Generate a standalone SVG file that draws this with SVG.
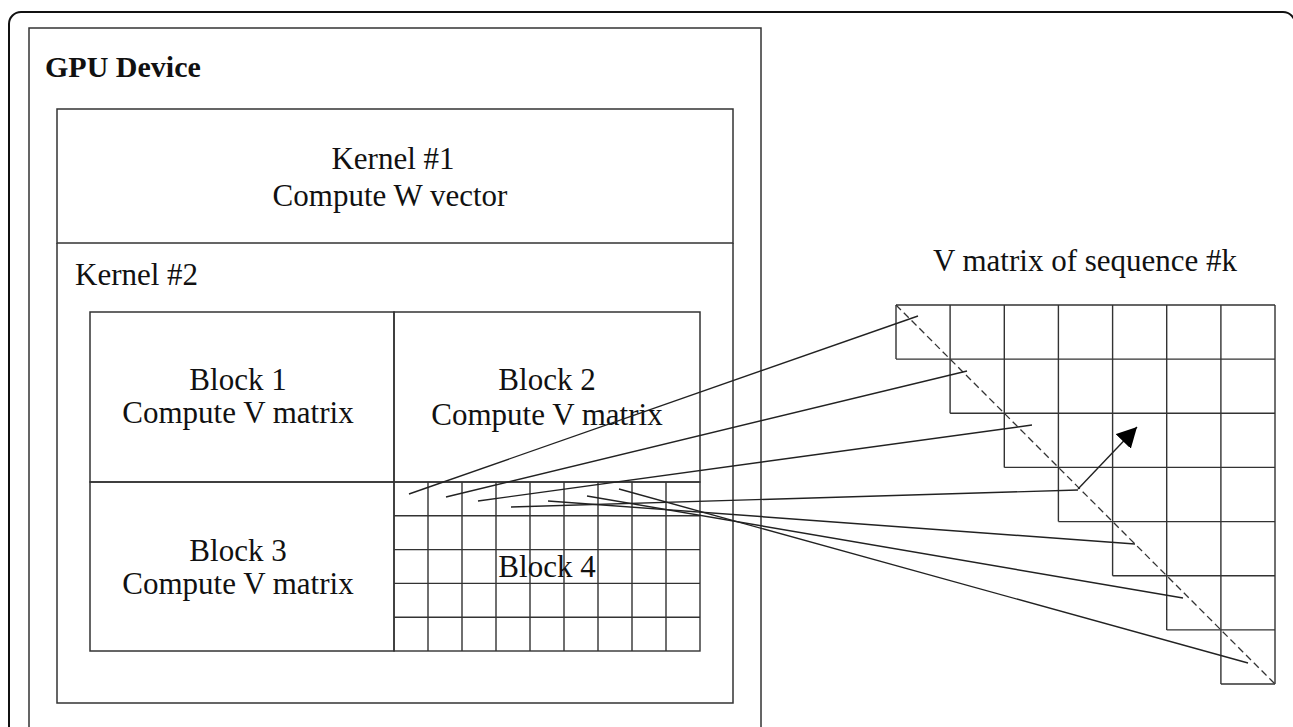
<svg xmlns="http://www.w3.org/2000/svg" width="1293" height="727" viewBox="0 0 1293 727">
<style>
.box{fill:none;stroke:#333;stroke-width:1.5}
.grid{fill:none;stroke:#333;stroke-width:1.4}
.t{font-family:"Liberation Serif","Times New Roman",serif;font-size:31px;fill:#111;text-anchor:middle}
.b{font-family:"Liberation Serif","Times New Roman",serif;font-size:30px;font-weight:bold;fill:#111}
.conn{stroke:#222;stroke-width:1.4;fill:none}
</style>
<defs>
<marker id="ah" viewBox="0 0 20 21" refX="20" refY="10.5" markerWidth="20" markerHeight="21" markerUnits="userSpaceOnUse" orient="auto">
<path d="M0,0 L20,10.5 L0,21 Z" fill="#000"/>
</marker>
</defs>
<rect width="1293" height="727" fill="#fff"/>
<g id="frame">
<rect x="9" y="12" width="1286" height="740" rx="12" ry="12" fill="none" stroke="#111" stroke-width="2"/>
</g>
<g id="gpu-device">
<rect class="box" x="29" y="28" width="732" height="720"/>
<text class="b" x="45" y="77">GPU Device</text>
</g>
<g id="kernel1">
<rect class="box" x="57" y="109" width="676" height="134"/>
<text class="t" x="393" y="169">Kernel #1</text>
<text class="t" x="390" y="206">Compute W vector</text>
</g>
<g id="kernel2">
<path class="box" d="M57,243 V703 H733 V243"/>
<text class="t" x="75" y="285" style="text-anchor:start">Kernel #2</text>
</g>
<g id="block1">
<rect class="box" x="90" y="312" width="304" height="170"/>
<text class="t" x="238" y="390">Block 1</text>
<text class="t" x="238" y="423">Compute V matrix</text>
</g>
<g id="block2">
<rect class="box" x="394" y="312" width="306" height="170"/>
<text class="t" x="547" y="390">Block 2</text>
<text class="t" x="547" y="425">Compute V matrix</text>
</g>
<g id="block3">
<rect class="box" x="90" y="482" width="304" height="169"/>
<text class="t" x="238" y="561">Block 3</text>
<text class="t" x="238" y="594">Compute V matrix</text>
</g>
<g id="block4">
<rect class="grid" x="394" y="482" width="306" height="169"/>
<path class="grid" d="M428,482V651M462,482V651M496,482V651M530,482V651M564,482V651M598,482V651M632,482V651M666,482V651M394,515.8H700M394,549.6H700M394,583.4H700M394,617.2H700"/>
<text class="t" x="547" y="577">Block 4</text>
</g>
<g id="v-matrix">
<text class="t" x="1085" y="271">V matrix of sequence #k</text>
<path class="grid" d="M896,305H1275M896,359.1H1275M950.1,413.3H1275M1004.3,467.4H1275M1058.4,521.6H1275M1112.6,575.7H1275M1166.7,629.9H1275M1220.9,684H1275M896,305V359.1M950.1,305V413.3M1004.3,305V467.4M1058.4,305V521.6M1112.6,305V575.7M1166.7,305V629.9M1220.9,305V684M1275,305V684"/>
<line x1="896" y1="305" x2="1275" y2="684" stroke="#333" stroke-width="1.3" stroke-dasharray="7,4"/>
</g>
<g id="connectors">
<line class="conn" x1="409" y1="494" x2="918" y2="316"/>
<line class="conn" x1="446" y1="497" x2="967" y2="371"/>
<line class="conn" x1="478" y1="501" x2="1032" y2="425"/>
<line class="conn" x1="511" y1="507" x2="1078" y2="490"/>
<line class="conn" x1="548" y1="501" x2="1135" y2="544"/>
<line class="conn" x1="587" y1="496" x2="1183" y2="598"/>
<line class="conn" x1="619" y1="489" x2="1248" y2="663"/>
<line class="conn" x1="1078" y1="489" x2="1137" y2="427" stroke="#111" stroke-width="1.6" marker-end="url(#ah)"/>
</g>
</svg>
